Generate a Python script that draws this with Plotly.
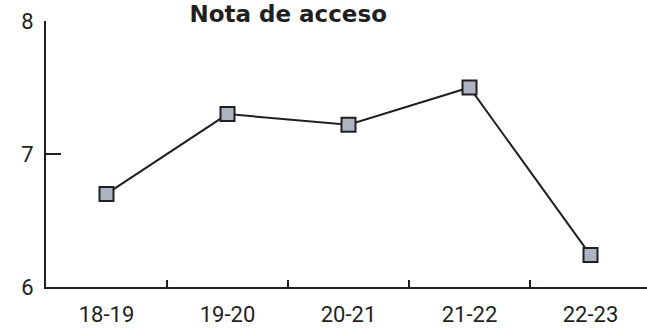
import plotly.graph_objects as go

seasons = ["18-19", "19-20", "20-21", "21-22", "22-23"]
nota = [6.7, 7.3, 7.22, 7.5, 6.24]
y_ticks = [6, 7, 8]

dark = "#231f20"

fig = go.Figure()
fig.add_trace(go.Scatter(
    x=seasons, y=nota, mode="lines+markers",
    line=dict(color=dark, width=2),
    marker=dict(symbol="square", size=14, color="#adb3c3",
                line=dict(color=dark, width=2)),
    cliponaxis=False,
))

fig.update_layout(
    width=647, height=329,
    margin=dict(l=46, r=0, t=21, b=42, autoexpand=False),
    paper_bgcolor="white", plot_bgcolor="white",
    showlegend=False,
    title=dict(text="<b>Nota de acceso</b>", x=0.403, xref="paper", xanchor="center",
               y=1 - 13.5 / 329, yref="container", yanchor="middle",
               font=dict(family="DejaVu Sans", size=23, color=dark)),
    font=dict(family="Roboto", color=dark),
)

fig.update_xaxes(
    type="category", range=[-0.5, 4.467],
    showline=True, linecolor=dark, linewidth=2,
    ticks="inside", tickson="boundaries", ticklen=7, tickwidth=2, tickcolor=dark,
    showgrid=False, zeroline=False,
    tickfont=dict(size=22, color=dark),
    ticklabelstandoff=7,
)
fig.update_yaxes(
    range=[6, 8], tickvals=y_ticks,
    showline=True, linecolor=dark, linewidth=2,
    ticks="inside", ticklen=15, tickwidth=2, tickcolor=dark,
    showgrid=False, zeroline=False,
    tickfont=dict(size=22, color=dark),
    ticklabelstandoff=6,
)

fig.write_html("out.html", config={"displayModeBar": False},
               post_script="document.body.style.margin='0';document.body.style.padding='0';")
